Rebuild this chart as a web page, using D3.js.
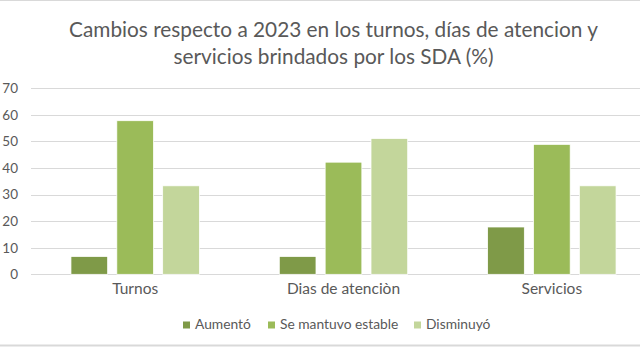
<!DOCTYPE html>
<html>
<head>
<meta charset="utf-8">
<script src="https://cdn.jsdelivr.net/npm/d3@7"></script>
<style>
  body { margin: 0; background: #fff; }
  svg { display: block; font-family: Lato, "Liberation Sans", sans-serif; }
</style>
</head>
<body>
<svg id="chart" width="640" height="350"></svg>
<script>
"use strict"

const categories = ["Turnos", "Dias de atenciòn", "Servicios"]
const seriesNames = ["Aumentó", "Se mantuvo estable", "Disminuyó"]
const aumento = [6.7, 6.7, 17.8]
const estable = [57.8, 42.2, 48.9]
const disminuyo = [33.3, 51.1, 33.3]
const yTicks = [0, 10, 20, 30, 40, 50, 60, 70]
const titleLines = ["Cambios respecto a 2023 en los turnos, días de atencion y",
                    "servicios brindados por los SDA (%)"]

const colors = ["#7f9a48", "#9bbb59", "#c3d69b"]
const seriesValues = [aumento, estable, disminuyo]

const svg = d3.select("#chart")

// frame lines (chart border partly cropped)
svg.append("line").attr("x1", 0).attr("x2", 640).attr("y1", 0.5).attr("y2", 0.5)
    .attr("stroke", "#d9d9d9")
svg.append("line").attr("x1", 0).attr("x2", 640).attr("y1", 345.5).attr("y2", 345.5)
    .attr("stroke", "#d9d9d9").attr("stroke-width", 2)

// title
svg.append("g").selectAll("text")
    .data(titleLines)
    .enter()
    .append("text")
    .attr("x", 333.5)
    .attr("y", (d, i) => 37 + i * 27)
    .attr("text-anchor", "middle")
    .style("font-size", "20.8px")
    .style("fill", "#595959")
    .text(d => d)

const x0 = d3.scaleBand().domain(categories).range([31, 656])
const x1 = d3.scaleBand().domain(seriesNames).range([-64.2, 64.2]).paddingInner(0.2)
const y = d3.scaleLinear().domain([0, 70]).range([274.3, 88.3])

// gridlines
svg.append("g").selectAll("line")
    .data(yTicks)
    .enter()
    .append("line")
    .attr("x1", 31)
    .attr("x2", 640)
    .attr("y1", d => Math.round(y(d)) + 0.5)
    .attr("y2", d => Math.round(y(d)) + 0.5)
    .attr("stroke", "#d9d9d9")
    .attr("stroke-width", 1)

// y axis labels
const yAxis = d3.axisLeft(y).tickValues(yTicks).tickSize(0).tickPadding(0)
svg.append("g")
    .attr("transform", "translate(18,0)")
    .call(yAxis)
    .call(g => g.select(".domain").remove())
    .selectAll("text")
    .style("font-size", "13.5px")
    .style("font-family", "Lato, 'Liberation Sans', sans-serif")
    .style("fill", "#595959")

// bars
const rows = []
categories.forEach((c, ci) => {
    seriesNames.forEach((s, si) => {
        rows.push({ cat: c, series: s, value: seriesValues[si][ci], color: colors[si] })
    })
})

svg.append("g").selectAll("rect")
    .data(rows)
    .enter()
    .append("rect")
    .attr("x", d => x0(d.cat) + x0.bandwidth() / 2 + x1(d.series))
    .attr("y", d => y(d.value))
    .attr("width", x1.bandwidth())
    .attr("height", d => y(0) - y(d.value))
    .attr("fill", d => d.color)
    .attr("stroke", "#ffffff")
    .attr("stroke-width", 0.75)

// x axis labels
const xAxis = d3.axisBottom(x0).tickSize(0).tickPadding(0)
svg.append("g")
    .attr("transform", "translate(0,283)")
    .call(xAxis)
    .call(g => g.select(".domain").remove())
    .selectAll("text")
    .style("font-size", "15.5px")
    .style("font-family", "Lato, 'Liberation Sans', sans-serif")
    .style("fill", "#595959")

// legend
const legendX = [183, 268, 414]
const legend = svg.append("g")
seriesNames.forEach((s, i) => {
    legend.append("rect").attr("x", legendX[i]).attr("y", 321.5).attr("width", 7).attr("height", 7)
        .attr("fill", colors[i])
    legend.append("text").attr("x", legendX[i] + 12).attr("y", 325.5)
        .attr("dominant-baseline", "middle")
        .style("font-size", "13.8px")
        .style("fill", "#595959")
        .text(s)
})
</script>
</body>
</html>
